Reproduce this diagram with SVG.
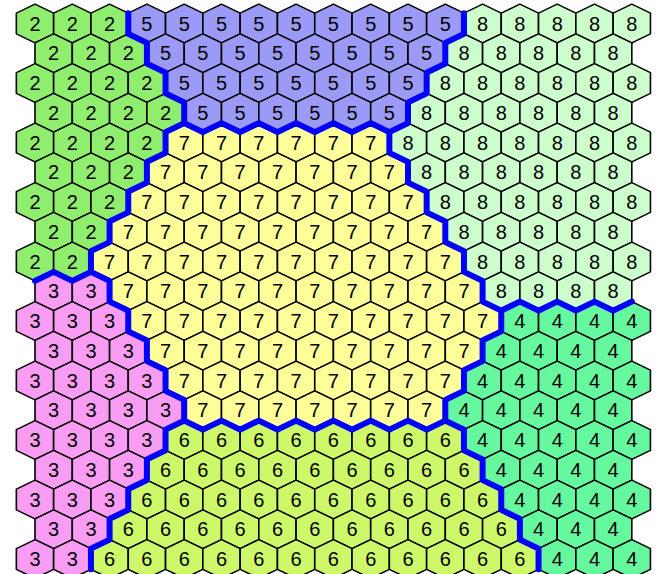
<svg xmlns="http://www.w3.org/2000/svg" xmlns:xlink="http://www.w3.org/1999/xlink" width="661" height="574" viewBox="0 0 661 574">
<style>
use{stroke:#000;stroke-width:1.6;stroke-linejoin:round}
text{font-family:"Liberation Sans",Arial,sans-serif;font-size:20px;text-anchor:middle;fill:#000;transform:translateY(0.6px)}
.r2 use{fill:#90ee6f}
.r5 use{fill:#9b9bf7}
.r8 use{fill:#ccffcc}
.r7 use{fill:#ffff99}
.r3 use{fill:#f99cf3}
.r4 use{fill:#66f89e}
.r6 use{fill:#cdf86a}
.bd{fill:none;stroke:#0000ff;stroke-width:6;stroke-linejoin:round;stroke-linecap:round}
</style>
<defs>
<polygon id="h" points="0,-19.4 18.65,-10.35 18.65,10.35 0,19.4 -18.65,10.35 -18.65,-10.35"/>
</defs>
<rect width="661" height="574" fill="#fff"/>
<g id="region-2" class="r2">
<g transform="translate(0,23.5)"><use href="#h" x="35"/><text x="35" y="6.6">2</text><use href="#h" x="72.3"/><text x="72.3" y="6.6">2</text><use href="#h" x="109.6"/><text x="109.6" y="6.6">2</text></g>
<g transform="translate(0,53.25)"><use href="#h" x="53.65"/><text x="53.65" y="6.6">2</text><use href="#h" x="90.95"/><text x="90.95" y="6.6">2</text><use href="#h" x="128.25"/><text x="128.25" y="6.6">2</text></g>
<g transform="translate(0,83)"><use href="#h" x="35"/><text x="35" y="6.6">2</text><use href="#h" x="72.3"/><text x="72.3" y="6.6">2</text><use href="#h" x="109.6"/><text x="109.6" y="6.6">2</text><use href="#h" x="146.9"/><text x="146.9" y="6.6">2</text></g>
<g transform="translate(0,112.75)"><use href="#h" x="53.65"/><text x="53.65" y="6.6">2</text><use href="#h" x="90.95"/><text x="90.95" y="6.6">2</text><use href="#h" x="128.25"/><text x="128.25" y="6.6">2</text><use href="#h" x="165.55"/><text x="165.55" y="6.6">2</text></g>
<g transform="translate(0,142.5)"><use href="#h" x="35"/><text x="35" y="6.6">2</text><use href="#h" x="72.3"/><text x="72.3" y="6.6">2</text><use href="#h" x="109.6"/><text x="109.6" y="6.6">2</text><use href="#h" x="146.9"/><text x="146.9" y="6.6">2</text></g>
<g transform="translate(0,172.25)"><use href="#h" x="53.65"/><text x="53.65" y="6.6">2</text><use href="#h" x="90.95"/><text x="90.95" y="6.6">2</text><use href="#h" x="128.25"/><text x="128.25" y="6.6">2</text></g>
<g transform="translate(0,202)"><use href="#h" x="35"/><text x="35" y="6.6">2</text><use href="#h" x="72.3"/><text x="72.3" y="6.6">2</text><use href="#h" x="109.6"/><text x="109.6" y="6.6">2</text></g>
<g transform="translate(0,231.75)"><use href="#h" x="53.65"/><text x="53.65" y="6.6">2</text><use href="#h" x="90.95"/><text x="90.95" y="6.6">2</text></g>
<g transform="translate(0,261.5)"><use href="#h" x="35"/><text x="35" y="6.6">2</text><use href="#h" x="72.3"/><text x="72.3" y="6.6">2</text></g>
</g>
<g id="region-5" class="r5">
<g transform="translate(0,23.5)"><use href="#h" x="146.9"/><text x="146.9" y="6.6">5</text><use href="#h" x="184.2"/><text x="184.2" y="6.6">5</text><use href="#h" x="221.5"/><text x="221.5" y="6.6">5</text><use href="#h" x="258.8"/><text x="258.8" y="6.6">5</text><use href="#h" x="296.1"/><text x="296.1" y="6.6">5</text><use href="#h" x="333.4"/><text x="333.4" y="6.6">5</text><use href="#h" x="370.7"/><text x="370.7" y="6.6">5</text><use href="#h" x="408"/><text x="408" y="6.6">5</text><use href="#h" x="445.3"/><text x="445.3" y="6.6">5</text></g>
<g transform="translate(0,53.25)"><use href="#h" x="165.55"/><text x="165.55" y="6.6">5</text><use href="#h" x="202.85"/><text x="202.85" y="6.6">5</text><use href="#h" x="240.15"/><text x="240.15" y="6.6">5</text><use href="#h" x="277.45"/><text x="277.45" y="6.6">5</text><use href="#h" x="314.75"/><text x="314.75" y="6.6">5</text><use href="#h" x="352.05"/><text x="352.05" y="6.6">5</text><use href="#h" x="389.35"/><text x="389.35" y="6.6">5</text><use href="#h" x="426.65"/><text x="426.65" y="6.6">5</text></g>
<g transform="translate(0,83)"><use href="#h" x="184.2"/><text x="184.2" y="6.6">5</text><use href="#h" x="221.5"/><text x="221.5" y="6.6">5</text><use href="#h" x="258.8"/><text x="258.8" y="6.6">5</text><use href="#h" x="296.1"/><text x="296.1" y="6.6">5</text><use href="#h" x="333.4"/><text x="333.4" y="6.6">5</text><use href="#h" x="370.7"/><text x="370.7" y="6.6">5</text><use href="#h" x="408"/><text x="408" y="6.6">5</text></g>
<g transform="translate(0,112.75)"><use href="#h" x="202.85"/><text x="202.85" y="6.6">5</text><use href="#h" x="240.15"/><text x="240.15" y="6.6">5</text><use href="#h" x="277.45"/><text x="277.45" y="6.6">5</text><use href="#h" x="314.75"/><text x="314.75" y="6.6">5</text><use href="#h" x="352.05"/><text x="352.05" y="6.6">5</text><use href="#h" x="389.35"/><text x="389.35" y="6.6">5</text></g>
</g>
<g id="region-8" class="r8">
<g transform="translate(0,23.5)"><use href="#h" x="482.6"/><text x="482.6" y="6.6">8</text><use href="#h" x="519.9"/><text x="519.9" y="6.6">8</text><use href="#h" x="557.2"/><text x="557.2" y="6.6">8</text><use href="#h" x="594.5"/><text x="594.5" y="6.6">8</text><use href="#h" x="631.8"/><text x="631.8" y="6.6">8</text></g>
<g transform="translate(0,53.25)"><use href="#h" x="463.95"/><text x="463.95" y="6.6">8</text><use href="#h" x="501.25"/><text x="501.25" y="6.6">8</text><use href="#h" x="538.55"/><text x="538.55" y="6.6">8</text><use href="#h" x="575.85"/><text x="575.85" y="6.6">8</text><use href="#h" x="613.15"/><text x="613.15" y="6.6">8</text></g>
<g transform="translate(0,83)"><use href="#h" x="445.3"/><text x="445.3" y="6.6">8</text><use href="#h" x="482.6"/><text x="482.6" y="6.6">8</text><use href="#h" x="519.9"/><text x="519.9" y="6.6">8</text><use href="#h" x="557.2"/><text x="557.2" y="6.6">8</text><use href="#h" x="594.5"/><text x="594.5" y="6.6">8</text><use href="#h" x="631.8"/><text x="631.8" y="6.6">8</text></g>
<g transform="translate(0,112.75)"><use href="#h" x="426.65"/><text x="426.65" y="6.6">8</text><use href="#h" x="463.95"/><text x="463.95" y="6.6">8</text><use href="#h" x="501.25"/><text x="501.25" y="6.6">8</text><use href="#h" x="538.55"/><text x="538.55" y="6.6">8</text><use href="#h" x="575.85"/><text x="575.85" y="6.6">8</text><use href="#h" x="613.15"/><text x="613.15" y="6.6">8</text></g>
<g transform="translate(0,142.5)"><use href="#h" x="408"/><text x="408" y="6.6">8</text><use href="#h" x="445.3"/><text x="445.3" y="6.6">8</text><use href="#h" x="482.6"/><text x="482.6" y="6.6">8</text><use href="#h" x="519.9"/><text x="519.9" y="6.6">8</text><use href="#h" x="557.2"/><text x="557.2" y="6.6">8</text><use href="#h" x="594.5"/><text x="594.5" y="6.6">8</text><use href="#h" x="631.8"/><text x="631.8" y="6.6">8</text></g>
<g transform="translate(0,172.25)"><use href="#h" x="426.65"/><text x="426.65" y="6.6">8</text><use href="#h" x="463.95"/><text x="463.95" y="6.6">8</text><use href="#h" x="501.25"/><text x="501.25" y="6.6">8</text><use href="#h" x="538.55"/><text x="538.55" y="6.6">8</text><use href="#h" x="575.85"/><text x="575.85" y="6.6">8</text><use href="#h" x="613.15"/><text x="613.15" y="6.6">8</text></g>
<g transform="translate(0,202)"><use href="#h" x="445.3"/><text x="445.3" y="6.6">8</text><use href="#h" x="482.6"/><text x="482.6" y="6.6">8</text><use href="#h" x="519.9"/><text x="519.9" y="6.6">8</text><use href="#h" x="557.2"/><text x="557.2" y="6.6">8</text><use href="#h" x="594.5"/><text x="594.5" y="6.6">8</text><use href="#h" x="631.8"/><text x="631.8" y="6.6">8</text></g>
<g transform="translate(0,231.75)"><use href="#h" x="463.95"/><text x="463.95" y="6.6">8</text><use href="#h" x="501.25"/><text x="501.25" y="6.6">8</text><use href="#h" x="538.55"/><text x="538.55" y="6.6">8</text><use href="#h" x="575.85"/><text x="575.85" y="6.6">8</text><use href="#h" x="613.15"/><text x="613.15" y="6.6">8</text></g>
<g transform="translate(0,261.5)"><use href="#h" x="482.6"/><text x="482.6" y="6.6">8</text><use href="#h" x="519.9"/><text x="519.9" y="6.6">8</text><use href="#h" x="557.2"/><text x="557.2" y="6.6">8</text><use href="#h" x="594.5"/><text x="594.5" y="6.6">8</text><use href="#h" x="631.8"/><text x="631.8" y="6.6">8</text></g>
<g transform="translate(0,291.25)"><use href="#h" x="501.25"/><text x="501.25" y="6.6">8</text><use href="#h" x="538.55"/><text x="538.55" y="6.6">8</text><use href="#h" x="575.85"/><text x="575.85" y="6.6">8</text><use href="#h" x="613.15"/><text x="613.15" y="6.6">8</text></g>
</g>
<g id="region-7" class="r7">
<g transform="translate(0,142.5)"><use href="#h" x="184.2"/><text x="184.2" y="6.6">7</text><use href="#h" x="221.5"/><text x="221.5" y="6.6">7</text><use href="#h" x="258.8"/><text x="258.8" y="6.6">7</text><use href="#h" x="296.1"/><text x="296.1" y="6.6">7</text><use href="#h" x="333.4"/><text x="333.4" y="6.6">7</text><use href="#h" x="370.7"/><text x="370.7" y="6.6">7</text></g>
<g transform="translate(0,172.25)"><use href="#h" x="165.55"/><text x="165.55" y="6.6">7</text><use href="#h" x="202.85"/><text x="202.85" y="6.6">7</text><use href="#h" x="240.15"/><text x="240.15" y="6.6">7</text><use href="#h" x="277.45"/><text x="277.45" y="6.6">7</text><use href="#h" x="314.75"/><text x="314.75" y="6.6">7</text><use href="#h" x="352.05"/><text x="352.05" y="6.6">7</text><use href="#h" x="389.35"/><text x="389.35" y="6.6">7</text></g>
<g transform="translate(0,202)"><use href="#h" x="146.9"/><text x="146.9" y="6.6">7</text><use href="#h" x="184.2"/><text x="184.2" y="6.6">7</text><use href="#h" x="221.5"/><text x="221.5" y="6.6">7</text><use href="#h" x="258.8"/><text x="258.8" y="6.6">7</text><use href="#h" x="296.1"/><text x="296.1" y="6.6">7</text><use href="#h" x="333.4"/><text x="333.4" y="6.6">7</text><use href="#h" x="370.7"/><text x="370.7" y="6.6">7</text><use href="#h" x="408"/><text x="408" y="6.6">7</text></g>
<g transform="translate(0,231.75)"><use href="#h" x="128.25"/><text x="128.25" y="6.6">7</text><use href="#h" x="165.55"/><text x="165.55" y="6.6">7</text><use href="#h" x="202.85"/><text x="202.85" y="6.6">7</text><use href="#h" x="240.15"/><text x="240.15" y="6.6">7</text><use href="#h" x="277.45"/><text x="277.45" y="6.6">7</text><use href="#h" x="314.75"/><text x="314.75" y="6.6">7</text><use href="#h" x="352.05"/><text x="352.05" y="6.6">7</text><use href="#h" x="389.35"/><text x="389.35" y="6.6">7</text><use href="#h" x="426.65"/><text x="426.65" y="6.6">7</text></g>
<g transform="translate(0,261.5)"><use href="#h" x="109.6"/><text x="109.6" y="6.6">7</text><use href="#h" x="146.9"/><text x="146.9" y="6.6">7</text><use href="#h" x="184.2"/><text x="184.2" y="6.6">7</text><use href="#h" x="221.5"/><text x="221.5" y="6.6">7</text><use href="#h" x="258.8"/><text x="258.8" y="6.6">7</text><use href="#h" x="296.1"/><text x="296.1" y="6.6">7</text><use href="#h" x="333.4"/><text x="333.4" y="6.6">7</text><use href="#h" x="370.7"/><text x="370.7" y="6.6">7</text><use href="#h" x="408"/><text x="408" y="6.6">7</text><use href="#h" x="445.3"/><text x="445.3" y="6.6">7</text></g>
<g transform="translate(0,291.25)"><use href="#h" x="128.25"/><text x="128.25" y="6.6">7</text><use href="#h" x="165.55"/><text x="165.55" y="6.6">7</text><use href="#h" x="202.85"/><text x="202.85" y="6.6">7</text><use href="#h" x="240.15"/><text x="240.15" y="6.6">7</text><use href="#h" x="277.45"/><text x="277.45" y="6.6">7</text><use href="#h" x="314.75"/><text x="314.75" y="6.6">7</text><use href="#h" x="352.05"/><text x="352.05" y="6.6">7</text><use href="#h" x="389.35"/><text x="389.35" y="6.6">7</text><use href="#h" x="426.65"/><text x="426.65" y="6.6">7</text><use href="#h" x="463.95"/><text x="463.95" y="6.6">7</text></g>
<g transform="translate(0,321)"><use href="#h" x="146.9"/><text x="146.9" y="6.6">7</text><use href="#h" x="184.2"/><text x="184.2" y="6.6">7</text><use href="#h" x="221.5"/><text x="221.5" y="6.6">7</text><use href="#h" x="258.8"/><text x="258.8" y="6.6">7</text><use href="#h" x="296.1"/><text x="296.1" y="6.6">7</text><use href="#h" x="333.4"/><text x="333.4" y="6.6">7</text><use href="#h" x="370.7"/><text x="370.7" y="6.6">7</text><use href="#h" x="408"/><text x="408" y="6.6">7</text><use href="#h" x="445.3"/><text x="445.3" y="6.6">7</text><use href="#h" x="482.6"/><text x="482.6" y="6.6">7</text></g>
<g transform="translate(0,350.75)"><use href="#h" x="165.55"/><text x="165.55" y="6.6">7</text><use href="#h" x="202.85"/><text x="202.85" y="6.6">7</text><use href="#h" x="240.15"/><text x="240.15" y="6.6">7</text><use href="#h" x="277.45"/><text x="277.45" y="6.6">7</text><use href="#h" x="314.75"/><text x="314.75" y="6.6">7</text><use href="#h" x="352.05"/><text x="352.05" y="6.6">7</text><use href="#h" x="389.35"/><text x="389.35" y="6.6">7</text><use href="#h" x="426.65"/><text x="426.65" y="6.6">7</text><use href="#h" x="463.95"/><text x="463.95" y="6.6">7</text></g>
<g transform="translate(0,380.5)"><use href="#h" x="184.2"/><text x="184.2" y="6.6">7</text><use href="#h" x="221.5"/><text x="221.5" y="6.6">7</text><use href="#h" x="258.8"/><text x="258.8" y="6.6">7</text><use href="#h" x="296.1"/><text x="296.1" y="6.6">7</text><use href="#h" x="333.4"/><text x="333.4" y="6.6">7</text><use href="#h" x="370.7"/><text x="370.7" y="6.6">7</text><use href="#h" x="408"/><text x="408" y="6.6">7</text><use href="#h" x="445.3"/><text x="445.3" y="6.6">7</text></g>
<g transform="translate(0,410.25)"><use href="#h" x="202.85"/><text x="202.85" y="6.6">7</text><use href="#h" x="240.15"/><text x="240.15" y="6.6">7</text><use href="#h" x="277.45"/><text x="277.45" y="6.6">7</text><use href="#h" x="314.75"/><text x="314.75" y="6.6">7</text><use href="#h" x="352.05"/><text x="352.05" y="6.6">7</text><use href="#h" x="389.35"/><text x="389.35" y="6.6">7</text><use href="#h" x="426.65"/><text x="426.65" y="6.6">7</text></g>
</g>
<g id="region-3" class="r3">
<g transform="translate(0,291.25)"><use href="#h" x="53.65"/><text x="53.65" y="6.6">3</text><use href="#h" x="90.95"/><text x="90.95" y="6.6">3</text></g>
<g transform="translate(0,321)"><use href="#h" x="35"/><text x="35" y="6.6">3</text><use href="#h" x="72.3"/><text x="72.3" y="6.6">3</text><use href="#h" x="109.6"/><text x="109.6" y="6.6">3</text></g>
<g transform="translate(0,350.75)"><use href="#h" x="53.65"/><text x="53.65" y="6.6">3</text><use href="#h" x="90.95"/><text x="90.95" y="6.6">3</text><use href="#h" x="128.25"/><text x="128.25" y="6.6">3</text></g>
<g transform="translate(0,380.5)"><use href="#h" x="35"/><text x="35" y="6.6">3</text><use href="#h" x="72.3"/><text x="72.3" y="6.6">3</text><use href="#h" x="109.6"/><text x="109.6" y="6.6">3</text><use href="#h" x="146.9"/><text x="146.9" y="6.6">3</text></g>
<g transform="translate(0,410.25)"><use href="#h" x="53.65"/><text x="53.65" y="6.6">3</text><use href="#h" x="90.95"/><text x="90.95" y="6.6">3</text><use href="#h" x="128.25"/><text x="128.25" y="6.6">3</text><use href="#h" x="165.55"/><text x="165.55" y="6.6">3</text></g>
<g transform="translate(0,440)"><use href="#h" x="35"/><text x="35" y="6.6">3</text><use href="#h" x="72.3"/><text x="72.3" y="6.6">3</text><use href="#h" x="109.6"/><text x="109.6" y="6.6">3</text><use href="#h" x="146.9"/><text x="146.9" y="6.6">3</text></g>
<g transform="translate(0,469.75)"><use href="#h" x="53.65"/><text x="53.65" y="6.6">3</text><use href="#h" x="90.95"/><text x="90.95" y="6.6">3</text><use href="#h" x="128.25"/><text x="128.25" y="6.6">3</text></g>
<g transform="translate(0,499.5)"><use href="#h" x="35"/><text x="35" y="6.6">3</text><use href="#h" x="72.3"/><text x="72.3" y="6.6">3</text><use href="#h" x="109.6"/><text x="109.6" y="6.6">3</text></g>
<g transform="translate(0,529.25)"><use href="#h" x="53.65"/><text x="53.65" y="6.6">3</text><use href="#h" x="90.95"/><text x="90.95" y="6.6">3</text></g>
<g transform="translate(0,559)"><use href="#h" x="35"/><text x="35" y="6.6">3</text><use href="#h" x="72.3"/><text x="72.3" y="6.6">3</text></g>
</g>
<g id="region-4" class="r4">
<g transform="translate(0,321)"><use href="#h" x="519.9"/><text x="519.9" y="6.6">4</text><use href="#h" x="557.2"/><text x="557.2" y="6.6">4</text><use href="#h" x="594.5"/><text x="594.5" y="6.6">4</text><use href="#h" x="631.8"/><text x="631.8" y="6.6">4</text></g>
<g transform="translate(0,350.75)"><use href="#h" x="501.25"/><text x="501.25" y="6.6">4</text><use href="#h" x="538.55"/><text x="538.55" y="6.6">4</text><use href="#h" x="575.85"/><text x="575.85" y="6.6">4</text><use href="#h" x="613.15"/><text x="613.15" y="6.6">4</text></g>
<g transform="translate(0,380.5)"><use href="#h" x="482.6"/><text x="482.6" y="6.6">4</text><use href="#h" x="519.9"/><text x="519.9" y="6.6">4</text><use href="#h" x="557.2"/><text x="557.2" y="6.6">4</text><use href="#h" x="594.5"/><text x="594.5" y="6.6">4</text><use href="#h" x="631.8"/><text x="631.8" y="6.6">4</text></g>
<g transform="translate(0,410.25)"><use href="#h" x="463.95"/><text x="463.95" y="6.6">4</text><use href="#h" x="501.25"/><text x="501.25" y="6.6">4</text><use href="#h" x="538.55"/><text x="538.55" y="6.6">4</text><use href="#h" x="575.85"/><text x="575.85" y="6.6">4</text><use href="#h" x="613.15"/><text x="613.15" y="6.6">4</text></g>
<g transform="translate(0,440)"><use href="#h" x="482.6"/><text x="482.6" y="6.6">4</text><use href="#h" x="519.9"/><text x="519.9" y="6.6">4</text><use href="#h" x="557.2"/><text x="557.2" y="6.6">4</text><use href="#h" x="594.5"/><text x="594.5" y="6.6">4</text><use href="#h" x="631.8"/><text x="631.8" y="6.6">4</text></g>
<g transform="translate(0,469.75)"><use href="#h" x="501.25"/><text x="501.25" y="6.6">4</text><use href="#h" x="538.55"/><text x="538.55" y="6.6">4</text><use href="#h" x="575.85"/><text x="575.85" y="6.6">4</text><use href="#h" x="613.15"/><text x="613.15" y="6.6">4</text></g>
<g transform="translate(0,499.5)"><use href="#h" x="519.9"/><text x="519.9" y="6.6">4</text><use href="#h" x="557.2"/><text x="557.2" y="6.6">4</text><use href="#h" x="594.5"/><text x="594.5" y="6.6">4</text><use href="#h" x="631.8"/><text x="631.8" y="6.6">4</text></g>
<g transform="translate(0,529.25)"><use href="#h" x="538.55"/><text x="538.55" y="6.6">4</text><use href="#h" x="575.85"/><text x="575.85" y="6.6">4</text><use href="#h" x="613.15"/><text x="613.15" y="6.6">4</text></g>
<g transform="translate(0,559)"><use href="#h" x="557.2"/><text x="557.2" y="6.6">4</text><use href="#h" x="594.5"/><text x="594.5" y="6.6">4</text><use href="#h" x="631.8"/><text x="631.8" y="6.6">4</text></g>
</g>
<g id="region-6" class="r6">
<g transform="translate(0,440)"><use href="#h" x="184.2"/><text x="184.2" y="6.6">6</text><use href="#h" x="221.5"/><text x="221.5" y="6.6">6</text><use href="#h" x="258.8"/><text x="258.8" y="6.6">6</text><use href="#h" x="296.1"/><text x="296.1" y="6.6">6</text><use href="#h" x="333.4"/><text x="333.4" y="6.6">6</text><use href="#h" x="370.7"/><text x="370.7" y="6.6">6</text><use href="#h" x="408"/><text x="408" y="6.6">6</text><use href="#h" x="445.3"/><text x="445.3" y="6.6">6</text></g>
<g transform="translate(0,469.75)"><use href="#h" x="165.55"/><text x="165.55" y="6.6">6</text><use href="#h" x="202.85"/><text x="202.85" y="6.6">6</text><use href="#h" x="240.15"/><text x="240.15" y="6.6">6</text><use href="#h" x="277.45"/><text x="277.45" y="6.6">6</text><use href="#h" x="314.75"/><text x="314.75" y="6.6">6</text><use href="#h" x="352.05"/><text x="352.05" y="6.6">6</text><use href="#h" x="389.35"/><text x="389.35" y="6.6">6</text><use href="#h" x="426.65"/><text x="426.65" y="6.6">6</text><use href="#h" x="463.95"/><text x="463.95" y="6.6">6</text></g>
<g transform="translate(0,499.5)"><use href="#h" x="146.9"/><text x="146.9" y="6.6">6</text><use href="#h" x="184.2"/><text x="184.2" y="6.6">6</text><use href="#h" x="221.5"/><text x="221.5" y="6.6">6</text><use href="#h" x="258.8"/><text x="258.8" y="6.6">6</text><use href="#h" x="296.1"/><text x="296.1" y="6.6">6</text><use href="#h" x="333.4"/><text x="333.4" y="6.6">6</text><use href="#h" x="370.7"/><text x="370.7" y="6.6">6</text><use href="#h" x="408"/><text x="408" y="6.6">6</text><use href="#h" x="445.3"/><text x="445.3" y="6.6">6</text><use href="#h" x="482.6"/><text x="482.6" y="6.6">6</text></g>
<g transform="translate(0,529.25)"><use href="#h" x="128.25"/><text x="128.25" y="6.6">6</text><use href="#h" x="165.55"/><text x="165.55" y="6.6">6</text><use href="#h" x="202.85"/><text x="202.85" y="6.6">6</text><use href="#h" x="240.15"/><text x="240.15" y="6.6">6</text><use href="#h" x="277.45"/><text x="277.45" y="6.6">6</text><use href="#h" x="314.75"/><text x="314.75" y="6.6">6</text><use href="#h" x="352.05"/><text x="352.05" y="6.6">6</text><use href="#h" x="389.35"/><text x="389.35" y="6.6">6</text><use href="#h" x="426.65"/><text x="426.65" y="6.6">6</text><use href="#h" x="463.95"/><text x="463.95" y="6.6">6</text><use href="#h" x="501.25"/><text x="501.25" y="6.6">6</text></g>
<g transform="translate(0,559)"><use href="#h" x="109.6"/><text x="109.6" y="6.6">6</text><use href="#h" x="146.9"/><text x="146.9" y="6.6">6</text><use href="#h" x="184.2"/><text x="184.2" y="6.6">6</text><use href="#h" x="221.5"/><text x="221.5" y="6.6">6</text><use href="#h" x="258.8"/><text x="258.8" y="6.6">6</text><use href="#h" x="296.1"/><text x="296.1" y="6.6">6</text><use href="#h" x="333.4"/><text x="333.4" y="6.6">6</text><use href="#h" x="370.7"/><text x="370.7" y="6.6">6</text><use href="#h" x="408"/><text x="408" y="6.6">6</text><use href="#h" x="445.3"/><text x="445.3" y="6.6">6</text><use href="#h" x="482.6"/><text x="482.6" y="6.6">6</text><use href="#h" x="519.9"/><text x="519.9" y="6.6">6</text></g>
</g>
<g id="boundaries" class="bd">
<path id="boundary-left" d="M128.25,13.15 V33.85 L146.9,42.9 V63.6 L165.55,72.65 V93.35 L184.2,102.4 V123.1 L165.55,132.15 V152.85 L146.9,161.9 V182.6 L128.25,191.65 V212.35 L109.6,221.4 V242.1 L90.95,251.15 V271.85 L109.6,280.9 V301.6 L128.25,310.65 V331.35 L146.9,340.4 V361.1 L165.55,370.15 V390.85 L184.2,399.9 V420.6 L165.55,429.65 V450.35 L146.9,459.4 V480.1 L128.25,489.15 V509.85 L109.6,518.9 V539.6 L90.95,548.65 V569.35"/>
<path id="boundary-right" d="M463.95,13.15 V33.85 L445.3,42.9 V63.6 L426.65,72.65 V93.35 L408,102.4 V123.1 L389.35,132.15 V152.85 L408,161.9 V182.6 L426.65,191.65 V212.35 L445.3,221.4 V242.1 L463.95,251.15 V271.85 L482.6,280.9 V301.6 L501.25,310.65 V331.35 L482.6,340.4 V361.1 L463.95,370.15 V390.85 L445.3,399.9 V420.6 L463.95,429.65 V450.35 L482.6,459.4 V480.1 L501.25,489.15 V509.85 L519.9,518.9 V539.6 L538.55,548.65 V569.35"/>
<path id="boundary-5-7" d="M184.2,123.1 L202.85,132.15 L221.5,123.1 L240.15,132.15 L258.8,123.1 L277.45,132.15 L296.1,123.1 L314.75,132.15 L333.4,123.1 L352.05,132.15 L370.7,123.1 L389.35,132.15"/>
<path id="boundary-2-3" d="M35,280.9 L53.65,271.85 L72.3,280.9 L90.95,271.85"/>
<path id="boundary-8-4" d="M501.25,310.65 L519.9,301.6 L538.55,310.65 L557.2,301.6 L575.85,310.65 L594.5,301.6 L613.15,310.65 L631.8,301.6"/>
<path id="boundary-7-6" d="M184.2,420.6 L202.85,429.65 L221.5,420.6 L240.15,429.65 L258.8,420.6 L277.45,429.65 L296.1,420.6 L314.75,429.65 L333.4,420.6 L352.05,429.65 L370.7,420.6 L389.35,429.65 L408,420.6 L426.65,429.65 L445.3,420.6"/>
</g>
</svg>
